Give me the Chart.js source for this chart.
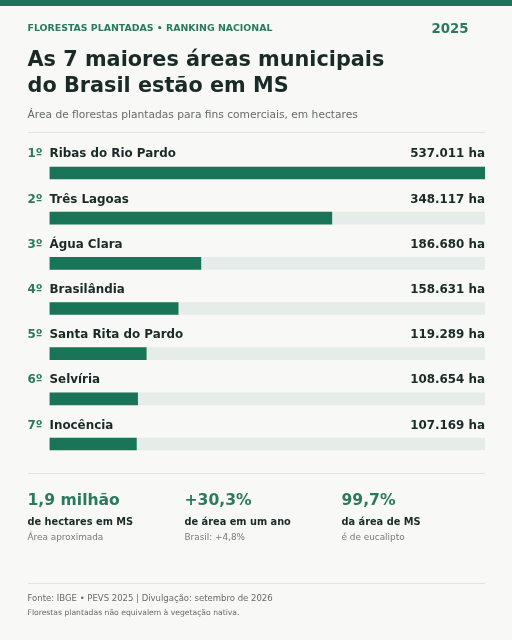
<!DOCTYPE html>
<html lang="pt-BR"><head><meta charset="utf-8">
<script src="https://cdn.jsdelivr.net/npm/chart.js@4"></script>
<style>
html,body{margin:0;padding:0;width:512px;height:640px;overflow:hidden;background:#f8f8f6;font-family:"DejaVu Sans",sans-serif}
#top{position:absolute;left:0;top:0;width:512px;height:6px;background:#1a7558}
canvas{position:absolute;left:0;top:0}
.t{position:absolute;white-space:nowrap;line-height:1}
.r{position:absolute;left:27.5px;width:457.5px;height:1px;background:#e2e3e0}
</style></head><body>
<div id="top"></div>
<canvas id="c" width="512" height="640"></canvas>
<div class="t" style="left:27.5px;top:23px;font-size:9.4px;font-weight:700;color:#2a7a60">FLORESTAS PLANTADAS • RANKING NACIONAL</div>
<div class="t" style="left:431.5px;top:22px;font-size:13.3px;font-weight:700;color:#2a7a60">2025</div>
<div class="t" style="left:27.5px;top:49px;font-size:20.8px;font-weight:700;color:#1a2a26">As 7 maiores áreas municipais</div>
<div class="t" style="left:27.5px;top:75px;font-size:20.8px;font-weight:700;color:#1a2a26">do Brasil estão em MS</div>
<div class="t" style="left:27.5px;top:110px;font-size:10.66px;color:#666b68">Área de florestas plantadas para fins comerciais, em hectares</div>
<div class="r" style="top:132px"></div>
<div class="r" style="top:473px"></div>
<div class="t" style="left:27.5px;top:493px;font-size:15.6px;font-weight:700;color:#2a7a60">1,9 milhão</div>
<div class="t" style="left:184.5px;top:493px;font-size:15.6px;font-weight:700;color:#2a7a60">+30,3%</div>
<div class="t" style="left:341.5px;top:493px;font-size:15.6px;font-weight:700;color:#2a7a60">99,7%</div>
<div class="t" style="left:27.5px;top:517px;font-size:9.8px;font-weight:700;color:#1a2a26">de hectares em MS</div>
<div class="t" style="left:184.5px;top:517px;font-size:9.8px;font-weight:700;color:#1a2a26">de área em um ano</div>
<div class="t" style="left:341.5px;top:517px;font-size:9.8px;font-weight:700;color:#1a2a26">da área de MS</div>
<div class="t" style="left:27.5px;top:533px;font-size:8.9px;color:#777b78">Área aproximada</div>
<div class="t" style="left:184.5px;top:533px;font-size:8.9px;color:#777b78">Brasil: +4,8%</div>
<div class="t" style="left:341.5px;top:533px;font-size:8.9px;color:#777b78">é de eucalipto</div>
<div class="r" style="top:583px"></div>
<div class="t" style="left:27.5px;top:594px;font-size:8.5px;color:#666b68">Fonte: IBGE • PEVS 2025 | Divulgação: setembro de 2026</div>
<div class="t" style="left:27.5px;top:609px;font-size:7.65px;color:#666b68">Florestas plantadas não equivalem à vegetação nativa.</div>
<script>
const ranks = ["1º","2º","3º","4º","5º","6º","7º"];
const municipalities = ["Ribas do Rio Pardo","Três Lagoas","Água Clara","Brasilândia","Santa Rita do Pardo","Selvíria","Inocência"];
const hectares = [537011,348117,186680,158631,119289,108654,107169];
const valueLabels = ["537.011 ha","348.117 ha","186.680 ha","158.631 ha","119.289 ha","108.654 ha","107.169 ha"];
const axisMax = hectares[0];
const rowText = {id:'rowText',afterDatasetsDraw(chart){
  const {ctx,scales:{x,y}}=chart;
  ctx.save();ctx.textBaseline='alphabetic';
  municipalities.forEach((name,i)=>{
    const base=y.getPixelForValue(i)-15.5;
    ctx.font='700 11.9px "DejaVu Sans"';
    ctx.fillStyle='#2a7a60';ctx.textAlign='left';ctx.fillText(ranks[i],27.5,base);
    ctx.fillStyle='#1a2a26';ctx.fillText(name,x.left,base);
    ctx.textAlign='right';ctx.fillText(valueLabels[i],x.right,base);
  });
  ctx.restore();
}};
new Chart(document.getElementById('c'),{
  type:'bar',
  data:{labels:municipalities,datasets:[
    {data:hectares,backgroundColor:'#1a7558',barThickness:12,order:1,grouped:false},
    {data:hectares.map(()=>axisMax),backgroundColor:'#e6ece9',barThickness:12,order:2,grouped:false}
  ]},
  options:{indexAxis:'y',responsive:false,animation:false,
    layout:{padding:{left:49.5,right:27,top:150.4,bottom:173.4}},
    plugins:{legend:{display:false},tooltip:{enabled:false}},
    scales:{
      x:{min:0,max:axisMax,display:false},
      y:{display:false,grid:{display:false}}
    }
  },
  plugins:[rowText]
});
</script>
</body></html>
